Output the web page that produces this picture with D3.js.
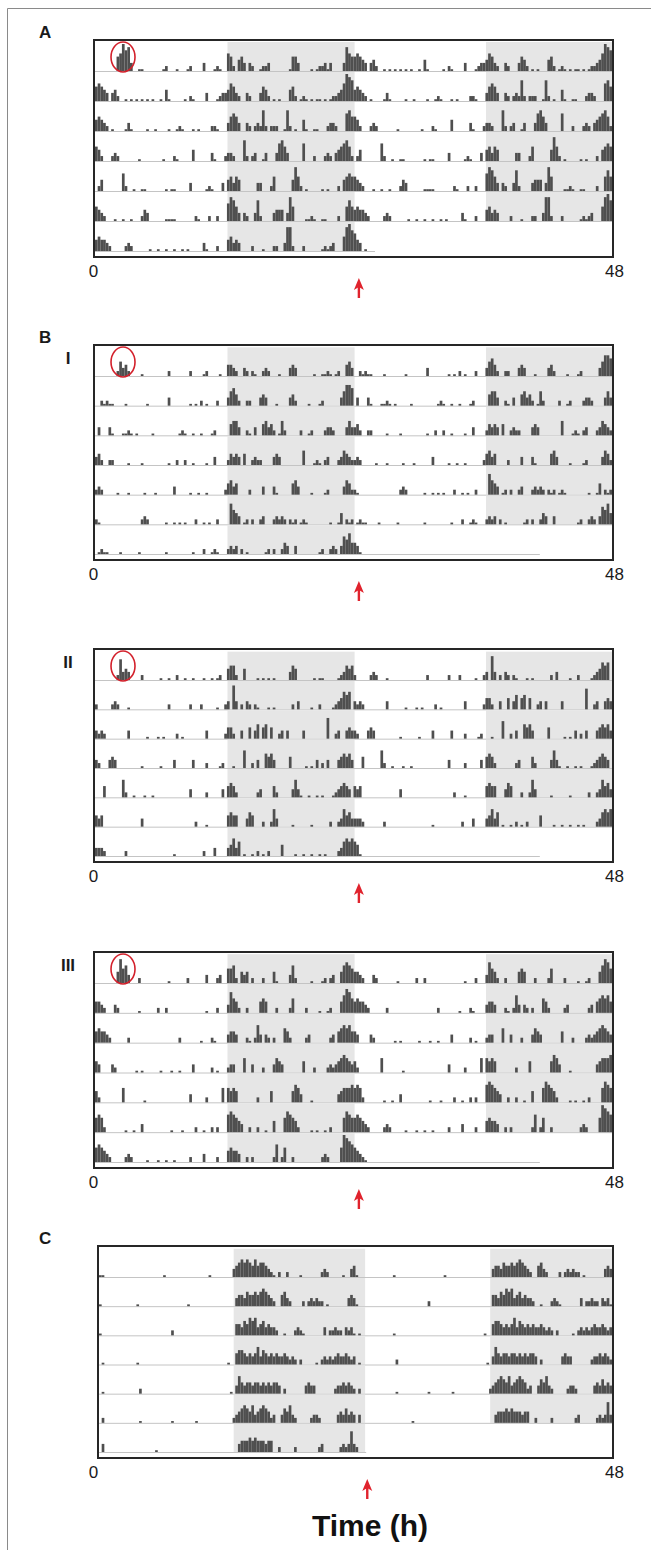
<!DOCTYPE html>
<html>
<head>
<meta charset="utf-8">
<script src="https://cdn.jsdelivr.net/npm/d3@7"></script>
<style>
  body { margin: 0; background: #fff; }
  svg { display: block; font-family: "Liberation Sans", Arial, sans-serif; }
</style>
</head>
<body>
<div id="chart"></div>
<script>
// activity bouts per day:
// [start hour, heights of consecutive 15-min bins (0-9)]
// row r shows day r (0-24 h) and day r+1 (24-48 h)
var actA = [
  [[2,"569783"],[4,"11"],[6.25,"12"],[7.5,"1"],[8.5,"12"],[10,"3"],[11,"121"],[12.25,"652"],[13.25,"453"],[14.25,"32"],[15.25,"1223"],[18,"1553"],[20,"1"],[20.5,"122313"],[23,"3865"]],
  [[0,"56543"],[1.5,"342"],[2.75,"10101010101"],[6,"1041"],[8.25,"1021"],[10.25,"3"],[11.25,"123346532"],[14,"32"],[15.25,"3542"],[16.5,"101"],[18,"452"],[19,"121"],[20,"101101"],[21.75,"122346987"]],
  [[0,"45432"],[1.5,"1"],[2.75,"131"],[4.75,"1"],[5.5,"1"],[6.75,"1"],[7.5,"121"],[9,"1"],[9.5,"1"],[10.75,"221"],[12.25,"35653"],[14,"32"],[14.75,"23272"],[16.25,"222"],[17.5,"172"],[18.5,"1"],[19.25,"41"],[20.25,"11"],[21.5,"2332"],[23.25,"675"]],
  [[0,"542"],[1.5,"232"],[4,"1"],[6.25,"1"],[7.25,"21"],[9,"4"],[10.75,"31"],[12,"2332"],[13.75,"72"],[14.5,"23"],[15.5,"13"],[16.75,"36753"],[19.25,"6"],[20.25,"2"],[21.25,"232"],[22.25,"3456752"]],
  [[0.25,"24"],[2.5,"62"],[3.5,"1"],[4.25,"11"],[6.5,"1011"],[8.75,"3"],[10.25,"121"],[11.75,"3"],[12.25,"45354"],[15,"33"],[16.25,"25"],[18.25,"4852"],[19.5,"1"],[21,"101"],[22.5,"2"],[23,"4565"]],
  [[0,"5432"],[1.75,"1"],[2.5,"1"],[3.25,"1"],[4.25,"243"],[6.5,"1111"],[9.25,"21"],[10.5,"2"],[11.25,"2"],[12.25,"68753"],[13.75,"32"],[14.75,"372"],[16.5,"3444"],[17.75,"385"],[19.5,"1121"],[21,"11"],[22.5,"2"],[23.25,"575"]],
  [[0,"454432"],[2.75,"232"],[5,"1"],[5.75,"1"],[6.5,"1"],[7.25,"1"],[8,"1"],[8.5,"1"],[10,"31"],[11.25,"2"],[12.25,"45343"],[14.5,"2"],[15.5,"1"],[16.5,"22"],[17.5,"3882"],[19.25,"2"],[21,"12123"],[23,"5897"]],
  [[0,"643"],[1,"1"]]
];

var actBI = [
  [[2,"2534"],[3,"2"],[4.25,"1"],[6.75,"2"],[8.75,"2"],[10,"12"],[11.5,"1"],[12.25,"4432"],[13.75,"32"],[14.5,"21"],[15.5,"232"],[17,"1"],[18,"343"],[20.25,"1"],[21,"1121"],[22.25,"12"],[23.25,"453"]],
  [[0.5,"21211"],[2.75,"1"],[4.75,"1"],[6.75,"3"],[8.75,"1"],[9.25,"1"],[9.75,"2"],[10.25,"1"],[11.25,"2"],[12.25,"35642"],[14,"22"],[15.25,"343"],[16.75,"1"],[18,"342"],[19.75,"1"],[20.75,"12"],[22.75,"35776"]],
  [[0.25,"3"],[1.25,"31"],[2.5,"1121"],[3.75,"1"],[5.25,"1"],[7.75,"121"],[9,"1"],[9.75,"1"],[10.75,"12"],[12.5,"4553"],[14,"21"],[14.75,"3"],[15.5,"45342"],[17,"152"],[19,"2"],[19.75,"12"],[21.25,"2332"],[23.25,"353"]],
  [[0,"342"],[1.25,"22"],[3,"1"],[4.25,"1"],[6.75,"1"],[7.5,"2"],[8.25,"2"],[9,"1"],[10.25,"1"],[11,"3"],[12.25,"24343"],[13.75,"4"],[14.5,"2322"],[16.5,"343"],[19.25,"5"],[20.25,"121"],[21.25,"23"],[22.5,"235432"]],
  [[0,"232"],[2,"1"],[3,"1"],[4.5,"1"],[5.5,"1"],[7.25,"3"],[8.75,"1"],[9.5,"1"],[10.25,"1"],[12,"24534"],[14.25,"2"],[15.5,"3"],[16.5,"31"],[18.25,"453"],[20,"1"],[21.25,"12"],[23,"3542"]],
  [[0,"21"],[4.25,"232"],[6.5,"1"],[7.25,"1"],[7.75,"1"],[8.25,"1"],[9.25,"2"],[10,"1"],[10.5,"1"],[11.25,"2"],[12.5,"7543"],[13.75,"12"],[14.5,"2"],[15.25,"23"],[16.5,"23232"],[18,"212"],[19,"121"],[21.75,"1"],[22.5,"14"],[23.25,"212"]],
  [[0.25,"1211"],[2.25,"1"],[4,"1"],[6.5,"1"],[9,"1"],[10,"2"],[10.75,"121"],[12.25,"2323"],[13.5,"2"],[14,"1"],[15.75,"12"],[16.5,"2"],[17.25,"243"],[18.5,"3"],[20.75,"12"],[21.75,"232"],[22.75,"36574"]],
  [[0,"431"]]
];

var actBII = [
  [[2,"27343"],[4.25,"2"],[6,"1"],[6.75,"1"],[7.5,"2"],[8.25,"1"],[9,"1"],[10,"1"],[10.75,"1"],[11.25,"12"],[12.25,"4552"],[13.75,"4"],[15,"1"],[15.5,"1"],[16,"1"],[16.5,"1"],[18,"354"],[20.25,"1"],[20.75,"11"],[22.5,"123545"]],
  [[0,"2"],[1.5,"232"],[3,"1"],[6.75,"2"],[8.75,"2"],[9.75,"2"],[11.25,"1"],[12,"23"],[12.75,"83"],[13.5,"2"],[14,"32"],[14.75,"21"],[16,"1"],[16.5,"1"],[18.25,"2"],[18.75,"3"],[20,"1"],[20.75,"2"],[22,"1234656"]],
  [[0,"3232"],[3,"3"],[4.75,"1"],[5.75,"1"],[6.25,"1"],[7.5,"2"],[8,"1"],[10.25,"3"],[12,"2442"],[13.5,"3"],[14.25,"4"],[14.75,"35"],[15.5,"45"],[16.25,"4"],[17,"23"],[17.75,"3"],[19.25,"3"],[21.5,"7"],[22.25,"23"],[23.25,"343"]],
  [[0,"32"],[1.25,"343"],[4.25,"1"],[6,"1"],[7.25,"3"],[9,"3"],[10.25,"2"],[11.5,"12"],[12.75,"1"],[13.75,"6"],[14.5,"2"],[15,"3"],[15.75,"5453"],[18,"4"],[19.5,"1"],[20,"1"],[20.5,"3"],[21,"2"],[21.5,"3"],[22.5,"345453"]],
  [[0.75,"4"],[2.5,"62"],[3.5,"1"],[4.5,"1"],[5.25,"1"],[8.75,"3"],[10.25,"2"],[11.75,"3"],[12.25,"4542"],[15,"23"],[16.5,"42"],[18.25,"3631"],[19.75,"1"],[20.5,"1"],[21,"1"],[22,"1234543"]],
  [[0,"434"],[4.25,"3"],[9.25,"2"],[10.25,"1"],[12.25,"4544"],[14,"354"],[15.5,"2"],[16.25,"263"],[18.25,"1"],[20,"1"],[21.75,"2"],[22.5,"236453"]],
  [[0,"3332"],[2.75,"2"],[7.25,"1"],[10,"2"],[11,"3"],[12.25,"34635"],[13.75,"1"],[14.5,"1"],[15,"2"],[15.5,"1"],[16,"2"],[17.25,"4"],[18.5,"1"],[19.25,"1"],[20,"1"],[20.75,"1"],[21.25,"1"],[22.5,"235656"]],
  [[0,"541"]]
];

var actBIII = [
  [[2,"4856"],[3,"3"],[4,"2"],[6.75,"1"],[8.5,"2"],[10.25,"3"],[11.25,"23"],[12.25,"5562"],[13.5,"434"],[14.5,"2"],[15.5,"2"],[16.5,"41"],[18,"362"],[20,"1"],[21,"12"],[21.75,"23"],[22.75,"46765"]],
  [[0,"4432"],[1.75,"32"],[4,"1"],[5.75,"2"],[6.5,"2"],[10.25,"1"],[11.25,"2"],[12.25,"37542"],[14,"2"],[15.25,"454"],[16.75,"2"],[18,"25"],[19.5,"2"],[20.75,"1"],[21.5,"12"],[22.75,"46875"]],
  [[0,"454432"],[3,"2"],[7.75,"2"],[9.75,"1"],[10.75,"21"],[12.25,"3443"],[14,"21"],[14.75,"263"],[15.75,"32"],[16.5,"2"],[17.5,"542"],[19.5,"23"],[21.75,"23"],[22.5,"456564"]],
  [[0,"43"],[1.5,"32"],[3.75,"1"],[4.25,"1"],[6,"1"],[7,"1"],[7.75,"1"],[9,"3"],[10.75,"2"],[11.25,"1"],[12.25,"233"],[13.75,"5"],[14.5,"3"],[15.5,"2"],[16.5,"3543"],[19.25,"4"],[20.25,"2"],[21.5,"23234565"],[23.5,"43"]],
  [[0,"42"],[2.5,"5"],[4.5,"1"],[8.75,"3"],[10.25,"2"],[11.75,"5"],[12.25,"5454"],[15,"2"],[16.25,"4"],[18.25,"4653"],[20,"1"],[22.5,"345556"]],
  [[0,"5652"],[2.75,"1"],[3.5,"1"],[4.25,"3"],[7,"1"],[8,"1"],[9.25,"2"],[10,"1"],[10.75,"2"],[11.25,"2"],[12.25,"676543"],[14.25,"2"],[15,"2"],[15.75,"1"],[16.5,"4"],[17.5,"576542"],[20,"1"],[20.5,"1"],[21.25,"1"],[21.75,"2"],[23,"5765"]],
  [[0,"565432"],[2.75,"232"],[4.75,"1"],[5.75,"1"],[6.5,"1"],[7.25,"1"],[8.75,"2"],[10,"3"],[11.25,"2"],[12.25,"45443"],[14,"2"],[14.5,"2"],[16.5,"26"],[17.25,"25"],[18.25,"2"],[21,"232"],[22.75,"59876"]],
  [[0,"5432"],[1,"1"]]
];

var actC = [
  [[0,"11"],[6,"1"],[10.25,"1"],[12.5,"3456565464554321"],[16.75,"2"],[17.5,"2"],[18.75,"1"],[20.75,"232"],[22.75,"1"],[23.5,"34"]],
  [[0,"1"],[3.5,"1"],[8.25,"1"],[12.75,"344354454565432"],[17,"4532"],[19,"2"],[19.5,"23"],[20,"232"],[20.75,"2"],[21.25,"1"],[23.25,"343"]],
  [[0,"1"],[6.75,"2"],[12.75,"44354656345343"],[16.25,"32"],[17.25,"1"],[18.25,"232"],[19,"1"],[21,"3"],[21.5,"2232"],[22.5,"2"],[23,"323"],[23.75,"1"]],
  [[0.25,"1"],[3.5,"1"],[12,"1"],[12.75,"45543434635434343343232"],[18.75,"2"],[20.25,"1"],[20.75,"2323234334323"]],
  [[0.25,"1"],[3.75,"2"],[12.25,"1"],[12.75,"36434434434343443"],[17.25,"2"],[19.25,"3433"],[22,"23343432"]],
  [[0.25,"2"],[3.75,"1"],[6.75,"1"],[9,"1"],[12.5,"2345654634565423"],[17,"354632"],[19.75,"2332"],[22.25,"34353432"]],
  [[0.25,"3"],[5.25,"1"],[13,"3444545444344"],[16.75,"2"],[18.25,"2"],[20.5,"23"],[22.5,"2323"],[23.5,"73"]],
  [[0,"2"]]
];

// dark phase (hours) of each animal, arrow marks, axis ticks
var darkA = [12.3, 24.1];
var darkB = [12.3, 24.1];
var darkC = [12.6, 24.9];
var arrowHours = [24.5, 24.5, 24.5, 24.5, 25.1];
var lastRowEnd = [26, 41.3, 41.3, 41.3, 25];
var tickValues = [0, 48];
var panelLetters = ["A", "B", null, null, "C"];
var panelRoman = [null, "I", "II", "III", null];

var width = 657, height = 1550;

var svg = d3.select("#chart")
  .append("svg")
    .attr("width", width)
    .attr("height", height);

svg.append("rect").attr("width", width).attr("height", height).attr("fill", "#fff");

// figure frame (top + left edge)
svg.append("path")
  .attr("d", "M7.5,1550 V8.5 H651")
  .attr("fill", "none")
  .attr("stroke", "#8a8a8a")
  .attr("stroke-width", 1);

var panels = [
  {days: actA,    dark: darkA, top: 40,   bottom: 257,  left: 94, right: 613, circle: true},
  {days: actBI,   dark: darkB, top: 345,  bottom: 560,  left: 94, right: 613, circle: true},
  {days: actBII,  dark: darkB, top: 649,  bottom: 862,  left: 94, right: 613, circle: true},
  {days: actBIII, dark: darkB, top: 952,  bottom: 1168, left: 94, right: 613, circle: true},
  {days: actC,    dark: darkC, top: 1246, bottom: 1458, left: 98, right: 613, circle: false}
];

function toBins(bouts) {
  var b = new Array(96).fill(0);
  bouts.forEach(function(bt) {
    var s = Math.round(bt[0] * 4);
    bt[1].split("").forEach(function(c, i) {
      if (s + i < 96) b[s + i] = +c;
    });
  });
  return b;
}

// the 0 / 48 labels sit at the same place under every panel
var xLabels = d3.scaleLinear().domain([0, 48]).range([93, 614]);

panels.forEach(function(p, pi) {
  var x = d3.scaleLinear().domain([0, 48]).range([p.left + 1, p.right - 1]);
  var firstBase = p.top + 31;
  var lastBase = p.bottom - 6;
  var pitch = (lastBase - firstBase) / 6;
  // single counts stay tiny, like the specks in the original
  var hScale = d3.scaleLinear().domain([0, 1, 9]).range([0, 1.8, 27]);
  var g = svg.append("g");

  var dayBins = p.days.map(toBins);

  for (var r = 0; r < 7; r++) {
    var base = firstBase + r * pitch;
    var row = g.append("g");

    // dark phase shading: left half always, right half only if next day is a full day
    var bands = [p.dark];
    if (r < 6) bands.push([p.dark[0] + 24, Math.min(48, p.dark[1] + 24)]);
    row.selectAll("rect.shade")
      .data(bands)
      .enter()
      .append("rect")
        .attr("class", "shade")
        .attr("x", function(d) { return x(d[0]); })
        .attr("width", function(d) { return x(d[1]) - x(d[0]); })
        .attr("y", base - pitch + 1)
        .attr("height", pitch - 1)
        .attr("fill", "#e6e6e6");

    // baseline
    var endH = r < 6 ? 48 : lastRowEnd[pi];
    row.append("line")
      .attr("x1", x(0)).attr("x2", x(endH))
      .attr("y1", base + 0.5).attr("y2", base + 0.5)
      .attr("stroke", "#c4c4c4")
      .attr("stroke-width", 1);

    // bars: day r on the left, day r+1 on the right
    var bars = [];
    dayBins[r].forEach(function(v, i) { if (v > 0) bars.push({h: i / 4, v: v}); });
    if (dayBins[r + 1]) {
      dayBins[r + 1].forEach(function(v, i) { if (v > 0) bars.push({h: 24 + i / 4, v: v}); });
    }
    row.selectAll("rect.bar")
      .data(bars)
      .enter()
      .append("rect")
        .attr("class", "bar")
        .attr("x", function(d) { return x(d.h); })
        .attr("width", function(d) { return x(d.h + 0.25) - x(d.h); })
        .attr("y", function(d) { return base - hScale(d.v); })
        .attr("height", function(d) { return hScale(d.v); })
        .attr("fill", "#4f4f4f");
  }

  // frame
  g.append("rect")
    .attr("x", p.left).attr("y", p.top)
    .attr("width", p.right - p.left).attr("height", p.bottom - p.top)
    .attr("fill", "none")
    .attr("stroke", "#262626")
    .attr("stroke-width", 2);

  // circled first bout
  if (p.circle) {
    g.append("ellipse")
      .attr("cx", x(2.6)).attr("cy", firstBase - 14)
      .attr("rx", 12).attr("ry", 15)
      .attr("fill", "none")
      .attr("stroke", "#d3212c")
      .attr("stroke-width", 1.6);
  }

  // 0 / 48 labels
  var axis = g.append("g")
    .attr("transform", "translate(0," + p.bottom + ")")
    .call(d3.axisBottom(xLabels).tickValues(tickValues).tickFormat(d3.format("d")).tickSize(0).tickPadding(8));
  axis.select(".domain").remove();
  axis.selectAll("text")
    .attr("fill", "#1a1a1a")
    .style("font-size", "17px")
    .style("font-family", "'Liberation Sans', Arial, sans-serif");

  // red arrow
  var ax = x(arrowHours[pi]), tip = p.bottom + 21;
  g.append("line")
    .attr("x1", ax).attr("x2", ax)
    .attr("y1", tip + 8).attr("y2", tip + 20)
    .attr("stroke", "#e0232d")
    .attr("stroke-width", 2.4);
  g.append("path")
    .attr("d", "M" + ax + "," + tip + " L" + (ax - 5) + "," + (tip + 12) + " L" + ax + "," + (tip + 9) + " L" + (ax + 5) + "," + (tip + 12) + " Z")
    .attr("fill", "#e0232d");

  // panel labels
  if (panelLetters[pi]) {
    svg.append("text")
      .attr("x", 39).attr("y", p.top - 2)
      .attr("font-size", 17).attr("font-weight", "bold")
      .attr("fill", "#1a1a1a")
      .text(panelLetters[pi]);
  }
  if (panelRoman[pi]) {
    svg.append("text")
      .attr("x", 68).attr("y", p.top + 19)
      .attr("text-anchor", "middle")
      .attr("font-size", 17).attr("font-weight", "bold")
      .attr("fill", "#1a1a1a")
      .text(panelRoman[pi]);
  }
});

svg.append("text")
  .attr("x", 370).attr("y", 1536)
  .attr("text-anchor", "middle")
  .attr("font-size", 30).attr("font-weight", "bold")
  .attr("fill", "#111")
  .text("Time (h)");
</script>
</body>
</html>
